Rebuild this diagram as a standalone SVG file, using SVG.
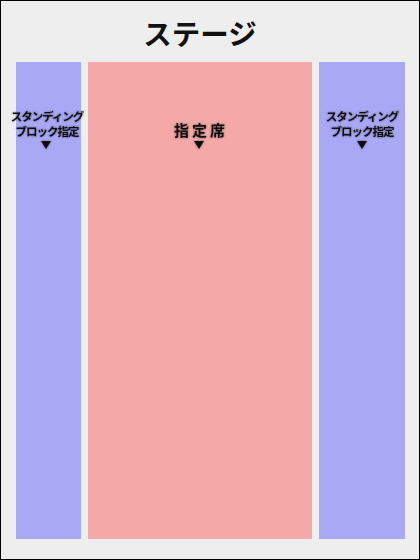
<svg xmlns="http://www.w3.org/2000/svg" width="420" height="560" viewBox="0 0 420 560">
<defs>
<style>
.blk{fill:#a8a8f4}
.seat{fill:#f4a8a8}
.lbl{font-family:"Noto Sans CJK JP","Noto Sans",sans-serif;font-weight:bold;fill:#111;text-anchor:middle}
.tri{fill:#111}
</style>
<filter id="glow" x="-20%" y="-40%" width="140%" height="180%">
<feGaussianBlur in="SourceAlpha" stdDeviation="1"/>
<feComponentTransfer><feFuncA type="linear" slope="0.5"/></feComponentTransfer>
<feMerge><feMergeNode/><feMergeNode in="SourceGraphic"/></feMerge>
</filter>
</defs>
<rect x="0.5" y="0.5" width="419" height="559" fill="#eeeeee" stroke="#000" stroke-width="1"/>
<g id="stage">
<text class="lbl" x="200" y="45" font-size="28.5">ステージ</text>
</g>
<g id="left-block">
<rect class="blk" x="16" y="62" width="65" height="477"/>
<g filter="url(#glow)">
<text class="lbl" x="47" y="121" font-size="11.5" letter-spacing="-1">スタンディング</text>
<text class="lbl" x="47" y="136" font-size="11.5" letter-spacing="-1">ブロック指定</text>
<polygon class="tri" points="41,141 51,141 46,149"/>
</g>
</g>
<g id="center-block">
<rect class="seat" x="88" y="62" width="224" height="477"/>
<g filter="url(#glow)">
<text class="lbl" x="201" y="136" font-size="15" letter-spacing="3">指定席</text>
<polygon class="tri" points="194,141 204,141 199,149"/>
</g>
</g>
<g id="right-block">
<rect class="blk" x="319" y="62" width="86" height="477"/>
<g filter="url(#glow)">
<text class="lbl" x="362" y="121" font-size="11.5" letter-spacing="-1">スタンディング</text>
<text class="lbl" x="362" y="136" font-size="11.5" letter-spacing="-1">ブロック指定</text>
<polygon class="tri" points="357,141 367,141 362,149"/>
</g>
</g>
<g id="connectors"/>
</svg>
